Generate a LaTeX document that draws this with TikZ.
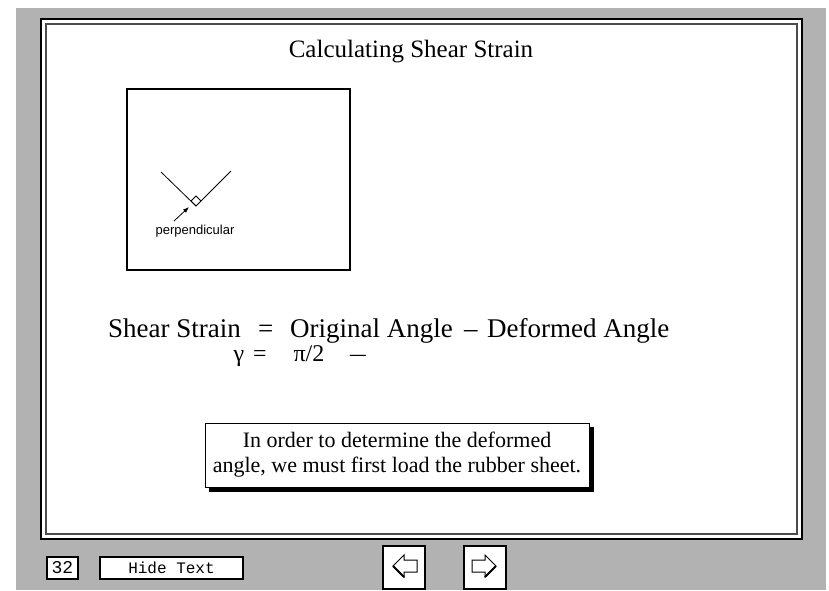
\documentclass[tikz,border=0pt]{standalone}
\usepackage{fontspec}
\setmainfont{Liberation Serif}
\setsansfont{Liberation Sans}
\setmonofont{Liberation Mono}
\usepackage{graphicx}
\usepackage{tikz}
\usetikzlibrary{positioning, arrows.meta}
\usepackage{xcolor}
\definecolor{deskgray}{gray}{0.70}
\definecolor{rimgray}{gray}{0.30}

\tikzset{
  btn/.style={draw, line width=1.2pt, fill=white, inner sep=0pt},
  slidetext/.style={font=\fontsize{27}{31}\selectfont, inner sep=0pt, anchor=base west},
  greektext/.style={font=\fontsize{24}{28}\selectfont, inner sep=0pt, anchor=base},
}

\begin{document}
\begin{tikzpicture}[x=1pt, y=-1pt]
  \useasboundingbox (0,0) rectangle (829,590);
  % desk and slide frame
  \fill[deskgray] (16,8) rectangle (826,590);
  \draw[line width=2pt, fill=white] (41,19) rectangle (802,539);
  \draw[line width=1.5pt, rimgray] (46,24) rectangle (797,534);
  \node[font=\fontsize{25}{29}\selectfont, inner sep=0pt, anchor=base] (title) at (411,57) {Calculating Shear Strain};

  % sketch of the right angle
  \node[draw, line width=2.5pt, minimum width=223pt, minimum height=181pt] (sketch) at (238.5,179.5) {};
  \coordinate (vtx) at (196,206);
  \coordinate (lend) at (161,172);
  \coordinate (rend) at (231,171);
  \draw[line width=0.8pt] (lend) -- (vtx) -- (rend);
  \draw[line width=0.8pt] (vtx) -- ++(-5,-5) -- ++(5,-5) -- ++(5,5);
  \node[font=\sffamily\fontsize{13}{15}\selectfont] (perp) at (195,231) {perpendicular};
  \coordinate (tail) at (174,221);
  \coordinate (tip) at (189,207);
  \draw[line width=0.8pt, -{Latex[length=6pt,width=4.5pt]}] (tail) -- (tip);

  % the relation
  \node[slidetext] (shear) at (108,337) {Shear Strain};
  \node[slidetext] (eqa) at (258,337) {=};
  \node[slidetext] (orig) at (290,337) {Original Angle};
  \node[slidetext] (mina) at (464,337) {–};
  \node[slidetext] (defo) at (487,337) {Deformed Angle};
  \node[greektext] (gam) at (239,361) {γ};
  \node[greektext] (eqb) at (260,361) {=};
  \node[greektext] (half) at (309,361) {π/2};
  \node[greektext] (minb) at (358,361) {\scalebox{1.3}[1]{–}};

  % note box with its shadow
  \node[draw, line width=1pt, fill=white, minimum width=384pt, minimum height=64pt, align=center,
        inner sep=2pt, font=\fontsize{22}{25}\selectfont] (note) at (397,455)
        {In order to determine the deformed\\angle, we must first load the rubber sheet.};
  \fill ([shift={(0,4)}]note.north east) rectangle ([shift={(4,4)}]note.south east);
  \fill ([shift={(4,0)}]note.south west) rectangle ([shift={(4,4)}]note.south east);

  % controls along the bottom
  \node[btn, minimum width=31pt, minimum height=22pt, font=\ttfamily\fontsize{18}{20}\selectfont] (page) at (62.5,568) {32};
  \node[btn, minimum width=143pt, minimum height=22pt, font=\ttfamily\fontsize{16}{18}\selectfont] (hide) at (171.5,568) {Hide Text};
  \node[btn, minimum width=42pt, minimum height=43pt] (prev) at (404,567.5) {};
  \node[btn, minimum width=42pt, minimum height=43pt] (next) at (485,567.5) {};
  \foreach \btn/\dir in {prev/1, next/-1} {
    \draw[shift={(\btn)}, xscale=\dir, line width=1pt, line join=miter]
      (-11,-1.5) -- (0,-12.5) -- (0,-7.5) -- (13,-7.5) -- (13,4.5) -- (0,4.5) -- (0,9.5) -- cycle;
    \draw[shift={(\btn)}, xscale=\dir, line width=2pt]
      (0,9.5) -- (-11,-1.5);
  }
\end{tikzpicture}
\end{document}
